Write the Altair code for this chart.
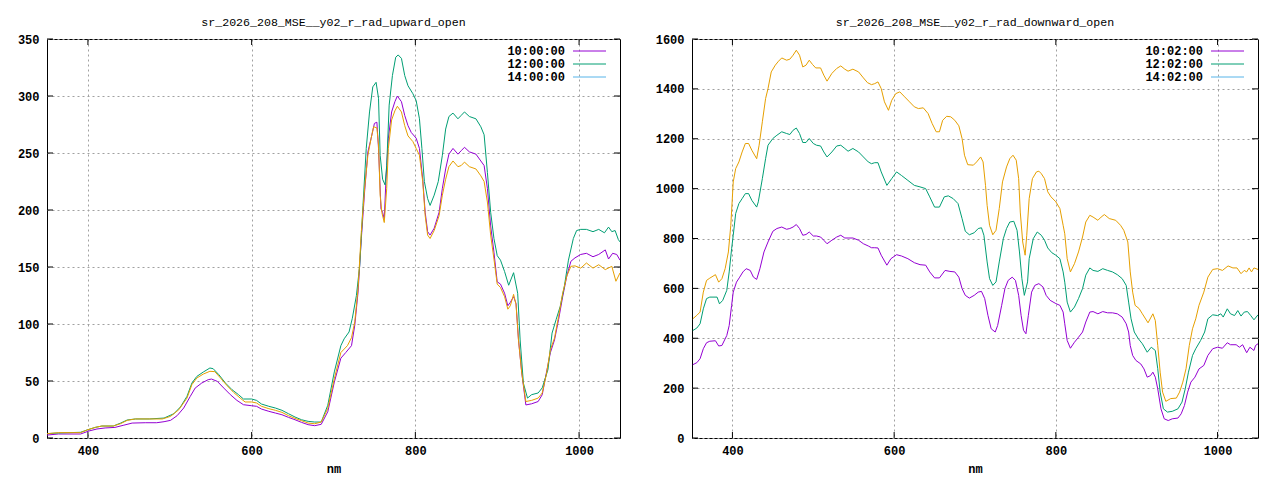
import altair as alt
import pandas as pd

# ---------------- data: upward panel ----------------
UP_TITLE = "sr_2026_208_MSE__y02_r_rad_upward_open"
UP_LABELS = ["10:00:00", "12:00:00", "14:00:00"]

UP_NM_1 = [350,364,391,401,411,421,433,443,454,470,484,493,501,509,517,525,531,539,547,551,558,566,574,582,590,600,606,612,621,629,637,645,653,661,669,677,685,693,701,709,715,722,726,730,734,738,742,746,750,753,755,758,760,762,764,767,771,775,778,783,787,791,795,801,805,809,812,815,818,823,829,833,837,841,846,852,856,860,866,874,880,884,888,892,896,900,904,909,913,916,920,923,926,930,935,942,950,955,960,965,970,975,980,985,990,995,1002,1009,1017,1024,1032,1036,1041,1046,1050]
UP_VAL_1 = [2.6,3.5,3.5,6.1,7.9,8.8,9.3,11.1,13.1,13.4,13.4,14.3,15.5,19.6,26.3,36.5,43.8,48.2,51.2,51.7,49.7,43.8,38,33,29.2,28.3,27.8,25.4,23.4,21.9,20.4,18.1,16,13.7,11.7,10.8,12,23,49,70,75,81,99,128,175,216,251,263,276,277,254,201,198,192,225,263,286,295,300,295,283,274,268,263,254,227,198,181,178,184,198,219,236,249,254,249,252,255,251,249,243,239,219,186,163,137,135,127,116,119,124,118,86,57,29,30,32,38,57,75,86,104,124,142,155,158,161,162,159,161,165,157,162,161,156]

UP_NM_2 = [350,364,391,400,409,417,431,440,448,458,475,493,505,513,521,527,533,541,549,553,560,568,576,584,590,600,606,612,621,629,637,645,653,661,669,677,685,693,701,709,713,719,723,728,732,736,740,744,748,752,755,757,760,763,765,768,772,776,779,783,787,791,797,801,805,808,811,815,818,823,828,833,837,841,846,852,856,860,866,874,880,884,888,892,896,900,904,909,914,920,925,928,932,937,942,950,955,962,967,972,977,982,987,993,997,1002,1009,1017,1024,1031,1036,1040,1044,1048,1050]
UP_VAL_2 = [3.8,4.4,5,7.3,9.3,10.5,10.5,13.1,15.8,16.7,16.7,17.5,21.3,27.2,36.5,48.2,54,57.9,61.4,60.8,55.5,48.2,42.4,38,34.2,34.2,33,29.8,27.8,26.3,24.3,21.3,18.4,16,14.6,14,14,28.7,58,81,87,93,105,125,151,204,254,286,308,312,298,248,227,222,239,292,318,334,336,333,318,309,302,296,280,254,225,210,204,213,225,248,271,282,285,280,283,286,282,280,273,266,233,198,175,160,156,146,134,145,127,86,48,35,38,39.5,44,60,92,104,115.5,133,156,175,182,183,183,181,183,180,185,181,182,174,172]

UP_NM_3 = [350,364,391,400,409,417,431,440,448,458,491,501,511,521,527,533,541,549,555,562,570,578,586,592,600,606,612,621,629,637,645,653,661,669,677,685,693,701,709,717,722,726,730,734,738,742,746,749,753,755,757,759,762,765,767,771,775,778,783,787,791,797,801,805,809,812,815,818,823,829,833,837,841,846,852,856,860,866,874,880,884,888,892,896,900,904,909,913,916,920,923,926,930,935,942,950,955,960,965,970,975,980,985,990,995,1002,1009,1017,1024,1032,1040,1045,1050]
UP_VAL_3 = [3.8,4.7,4.7,7.3,9.3,10.5,10.5,12.6,15.5,16.7,16.7,19,24.8,35,46.8,52.6,56.1,58.5,58.2,52.6,45.9,40,35,31.6,31.6,30.7,27.8,25.7,24.3,22.5,19.6,17.2,15.2,13.1,12.5,14,26,52,75,81,88,102,131,181,219,248,263,273,272,257,213,198,189,219,254,279,287,291,286,274,265,260,254,248,225,195,178,175,182,195,213,227,238,243,238,239,242,238,236,230,225,207,178,157,135,132,124,113,116,126,117,86,57,32,33,35,39.5,55.6,77.5,87.7,106.7,127,142,150.6,151,149,153.5,149,152,147.7,150.6,137.5,144.8]

UP_YTICKS = [0, 50, 100, 150, 200, 250, 300, 350]

# ---------------- data: downward panel ----------------
DN_TITLE = "sr_2026_208_MSE__y02_r_rad_downward_open"
DN_LABELS = ["10:02:00", "12:02:00", "14:02:00"]

DN_NM_1 = [351,356,360,364,368,372,379,383,387,393,396,399,401,405,409,413,417,422,426,430,434,439,444,450,455,461,467,471,475,479,483,487,491,495,500,504,509,513,517,523,529,534,539,543,549,556,562,568,572,576,580,584,591,596,603,609,617,625,632,639,644,650,656,663,669,675,680,684,688,693,699,704,708,712,716,720,725,728,733,737,741,746,750,754,757,760,763,766,770,774,779,784,788,793,800,805,809,811,814,818,823,828,833,837,842,846,852,858,864,870,876,882,887,890,892,895,899,905,909,913,917,920,923,926,930,934,939,944,951,955,959,963,967,972,977,983,988,994,1000,1006,1012,1016,1023,1027,1031,1036,1040,1045,1047,1050]
DN_VAL_1 = [294,302,318,358,382,388,390,369,371,411,451,532,585,625,645,666,679,672,645,636,679,746,786,829,840,846,837,840,846,856,840,813,816,826,810,810,806,793,779,793,806,813,802,802,802,793,779,770,763,763,762,733,693,719,735,730,719,703,695,693,666,642,642,672,668,666,645,599,572,561,572,585,588,559,492,438,425,451,532,599,632,645,632,572,492,432,418,492,585,612,619,606,572,552,539,532,505,458,391,360,384,404,425,465,505,507,498,507,502,502,498,485,458,425,371,331,311,297,277,244,250,264,244,197,117,77,70,77,80,97,130,184,224,244,277,291,331,358,364,360,382,374,374,364,374,342,364,351,371,378]

DN_NM_2 = [351,356,360,364,368,372,381,384,388,393,396,399,401,404,408,412,416,420,424,430,432,437,441,444,450,455,461,467,471,475,479,483,487,491,495,500,504,509,513,517,523,529,534,539,543,549,556,562,568,572,576,580,584,591,597,603,609,617,625,632,639,644,650,656,662,667,673,679,684,688,693,699,704,708,711,715,718,722,726,730,735,739,743,748,752,755,758,761,765,767,772,777,782,786,790,795,800,805,809,811,814,818,823,828,833,837,842,846,852,858,864,870,876,882,887,890,893,897,902,907,913,918,923,926,929,933,938,944,951,956,960,964,969,973,979,984,988,994,1000,1004,1007,1012,1016,1021,1025,1029,1033,1037,1041,1045,1050]
DN_VAL_2 = [431,441,458,518,559,565,565,538,552,592,666,759,813,900,940,960,980,980,953,926,947,1040,1120,1174,1201,1214,1228,1221,1217,1234,1243,1221,1185,1185,1201,1181,1174,1171,1147,1127,1147,1171,1174,1161,1150,1161,1147,1127,1107,1100,1104,1104,1067,1013,1040,1067,1053,1033,1013,1007,1000,967,926,926,967,971,960,940,880,829,815,823,840,843,813,706,639,612,626,706,799,840,866,869,833,746,639,572,626,719,799,826,813,793,762,743,733,719,666,625,545,505,525,559,599,653,682,672,668,679,672,666,655,639,612,545,478,425,398,378,344,364,351,278,184,117,104,107,117,144,197,264,331,358,391,425,478,494,491,498,485,518,498,491,511,489,505,507,491,474,494]

DN_NM_3 = [351,356,360,364,368,372,379,383,387,391,395,398,401,404,408,412,416,420,424,430,433,437,441,444,448,453,457,461,467,471,475,479,483,487,491,495,499,503,509,513,517,523,529,534,539,543,549,556,562,567,572,576,580,584,588,593,597,602,607,613,619,625,630,636,642,647,652,656,660,665,670,675,680,684,687,691,698,702,707,710,713,715,718,722,726,730,734,739,743,747,751,754,756,759,762,764,767,771,776,779,782,786,790,794,800,805,809,811,814,818,823,828,833,837,842,846,852,856,860,866,874,880,884,889,892,895,898,903,907,914,920,923,926,929,932,936,942,949,953,957,961,965,969,973,977,983,988,994,1000,1006,1013,1019,1024,1029,1033,1036,1039,1042,1045,1050]
DN_VAL_3 = [478,492,505,585,632,641,655,625,639,679,746,853,1027,1080,1107,1147,1181,1181,1154,1120,1174,1268,1361,1401,1468,1495,1511,1524,1515,1519,1535,1555,1535,1488,1495,1515,1498,1484,1484,1455,1431,1462,1482,1492,1479,1471,1479,1468,1444,1425,1417,1421,1428,1401,1348,1314,1354,1381,1388,1368,1348,1328,1321,1324,1301,1261,1228,1228,1274,1290,1288,1274,1252,1201,1134,1096,1094,1107,1127,1107,1013,933,853,815,833,920,1027,1087,1120,1134,1114,1040,906,786,733,813,960,1040,1067,1070,1060,1040,987,967,947,920,853,819,719,666,699,746,806,866,893,886,873,886,896,880,873,853,833,786,666,585,532,519,498,462,498,471,371,264,184,147,158,160,184,224,278,371,438,478,532,585,645,676,679,672,690,682,682,659,672,666,682,666,682,676]

DN_YTICKS = [0, 200, 400, 600, 800, 1000, 1200, 1400, 1600]

XTICKS = [400, 600, 800, 1000]
LINE_COLORS = ["#9400D3", "#009E73", "#E69F00"]
KEY_COLORS = ["#9400D3", "#009E73", "#56B4E9"]

FONT = "Liberation Mono"
H = 399


def panel(title, labels, nms, vals, yticks, ymax, W):
    frames = []
    for lab, nm, v in zip(labels, nms, vals):
        frames.append(pd.DataFrame({"nm": nm, "val": v, "series": lab}))
    df = pd.concat(frames, ignore_index=True)

    def X():
        return alt.X("nm:Q",
                     scale=alt.Scale(domain=[350, 1050], nice=False, zero=False),
                     axis=alt.Axis(values=XTICKS, title="nm", labelPadding=7,
                                   titlePadding=7, format="d"))

    def Y():
        return alt.Y("val:Q",
                     scale=alt.Scale(domain=[0, ymax], nice=False),
                     axis=alt.Axis(values=yticks, title=None, labelPadding=8,
                                   format="d"))

    lines = alt.Chart(df).mark_line(strokeWidth=1, clip=True, interpolate="linear").encode(
        x=X(), y=Y(),
        color=alt.Color("series:N", scale=alt.Scale(domain=labels, range=LINE_COLORS),
                        legend=None),
        order=alt.Order("nm:Q"),
    )

    xt = pd.DataFrame({"nm": XTICKS})
    yt = pd.DataFrame({"val": yticks})
    tk = 6
    xb = alt.Chart(xt).mark_rule(color="black", strokeWidth=1).encode(
        x=X(), y=alt.value(H), y2=alt.value(H - tk))
    xtop = alt.Chart(xt).mark_rule(color="black", strokeWidth=1).encode(
        x=X(), y=alt.value(0), y2=alt.value(tk))
    yl = alt.Chart(yt).mark_rule(color="black", strokeWidth=1).encode(
        y=Y(), x=alt.value(0), x2=alt.value(tk))
    yr = alt.Chart(yt).mark_rule(color="black", strokeWidth=1).encode(
        y=Y(), x=alt.value(W - tk), x2=alt.value(W))

    layers = [lines, xb, xtop, yl, yr]
    dummy = pd.DataFrame({"k": [0]})
    for i, (lab, col) in enumerate(zip(labels, KEY_COLORS)):
        yy = 12 + i * 13
        layers.append(alt.Chart(dummy).mark_text(
            text=lab, align="right", baseline="middle", font=FONT,
            fontSize=12, fontWeight="bold", color="black").encode(
            x=alt.value(W - 55), y=alt.value(yy)))
        layers.append(alt.Chart(dummy).mark_rule(color=col, strokeWidth=1).encode(
            x=alt.value(W - 47), x2=alt.value(W - 14), y=alt.value(yy)))

    return alt.layer(*layers).properties(
        width=W, height=H,
        title=alt.TitleParams(title, font=FONT, fontSize=11.6, fontWeight="normal",
                              anchor="middle", offset=4, color="black"),
    )


left = panel(UP_TITLE, UP_LABELS, [UP_NM_1, UP_NM_2, UP_NM_3],
             [UP_VAL_1, UP_VAL_2, UP_VAL_3], UP_YTICKS, 350, 573)
right = panel(DN_TITLE, DN_LABELS, [DN_NM_1, DN_NM_2, DN_NM_3],
              [DN_VAL_1, DN_VAL_2, DN_VAL_3], DN_YTICKS, 1600, 566)

chart = alt.hconcat(left, right, spacing=33).properties(
    padding={"left": 8, "top": 8, "right": 0, "bottom": 0},
    background="white",
).configure_view(
    stroke="black", strokeWidth=1,
).configure_axis(
    domain=False, ticks=False, grid=True, gridColor="#a0a0a0", gridDash=[2, 3],
    gridWidth=1, labelFont=FONT, labelFontSize=12, labelFontWeight="bold",
    labelColor="black", titleFont=FONT, titleFontSize=12, titleFontWeight="bold",
    titleColor="black", labelOverlap=False, labelFlush=False,
)

chart.save("out.html", embed_options={"renderer": "svg", "actions": False})
